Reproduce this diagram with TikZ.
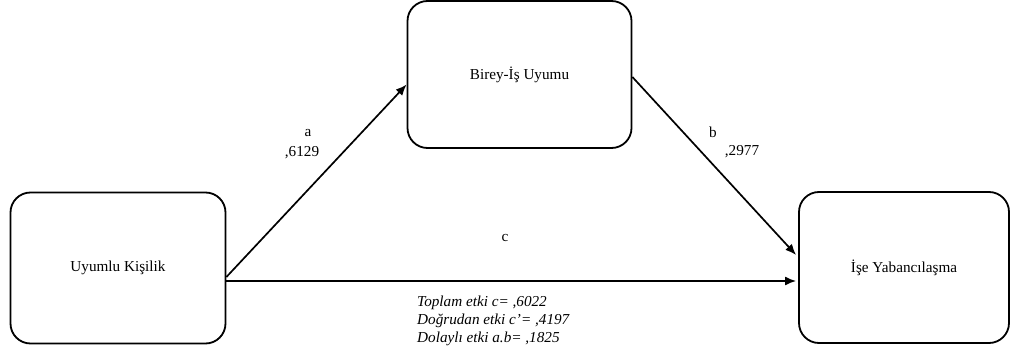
\documentclass[tikz,border=0pt]{standalone}
\usepackage{fontspec}
\setmainfont{Liberation Serif}
\usetikzlibrary{arrows.meta,calc}
\begin{document}
\begin{tikzpicture}[x=1pt,y=-1pt,
  box/.style={draw,line width=1.8pt,rounded corners=20pt,inner sep=0pt,
    font=\fontsize{15.2}{17}\selectfont},
  link/.style={line width=1.7pt,-{Latex[length=11pt,width=9pt]}},
  lbl/.style={font=\fontsize{15.2}{17}\selectfont,inner sep=0pt}]
\useasboundingbox (0,0) rectangle (1011,358);
% variables
\node[box,minimum width=215pt,minimum height=151pt] (uk) at (118,268) {Uyumlu Kişilik};
\node[box,minimum width=224pt,minimum height=147pt] (bi) at (519.5,74.5) {Birey-İş Uyumu};
\node[box,minimum width=210pt,minimum height=151pt] (iy) at (904,267.5) {İşe Yabancılaşma};
% paths
\draw[link] ($(uk.east)+(0,9)$) -- ($(bi.west)+(0,10)$);
\draw[link] ($(bi.east)+(0,2.5)$) -- ($(iy.west)+(-2,-12.5)$);
\draw[link] ($(uk.east)+(0,13)$) -- ($(iy.west)+(-2,13.5)$);
% coefficients
\node[lbl] (la) at (308,133) {a};
\node[lbl] (va) at (302,153) {,6129};
\node[lbl] (lb) at (713,132) {b};
\node[lbl] (vb) at (742,152) {,2977};
\node[lbl] (lc) at (505,238) {c};
\node[lbl,align=left,anchor=north west,font=\fontsize{15.2}{18}\selectfont\itshape] (eff) at (417,296)
  {Toplam etki c= ,6022\\Doğrudan etki c’= ,4197\\Dolaylı etki a.b= ,1825};
\end{tikzpicture}
\end{document}
